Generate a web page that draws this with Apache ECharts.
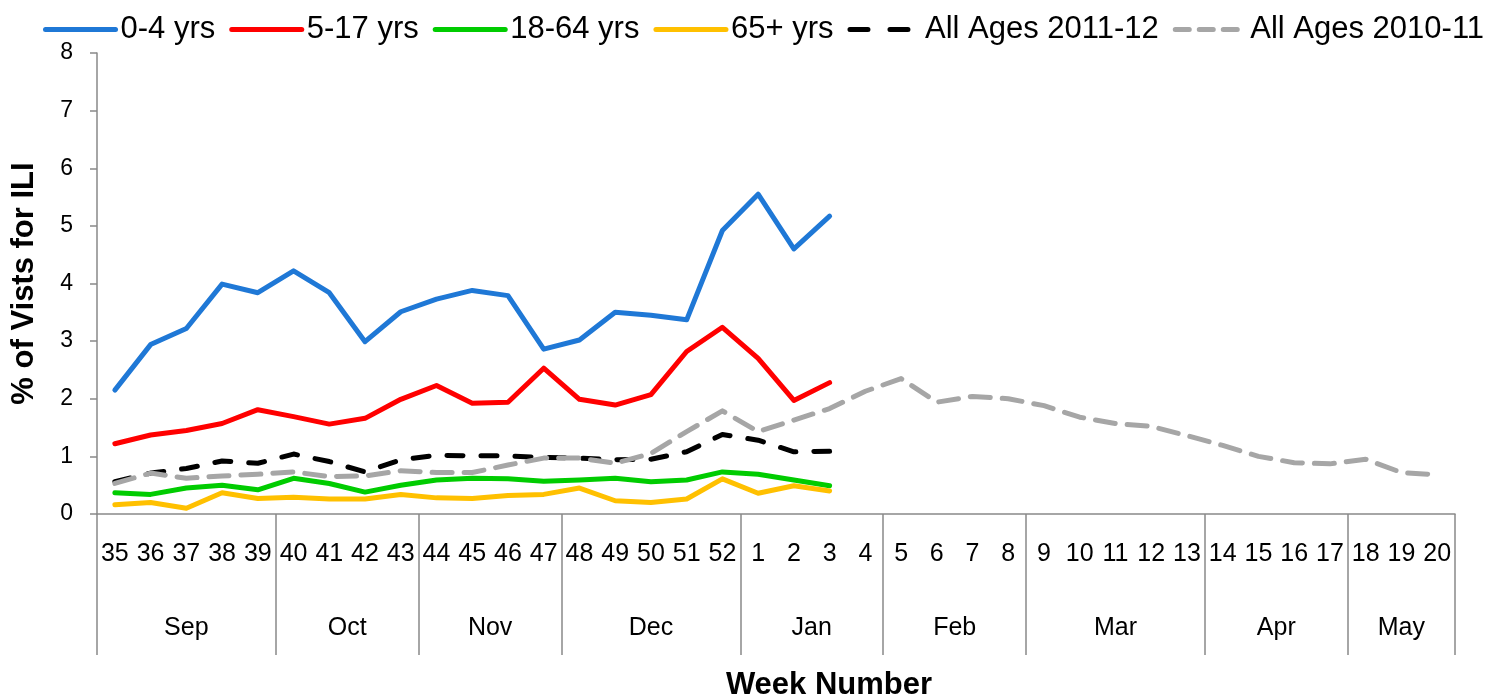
<!DOCTYPE html>
<html>
<head>
<meta charset="utf-8">
<script src="https://cdn.jsdelivr.net/npm/echarts@6/dist/echarts.min.js"></script>
<style>
    html, body { margin: 0; padding: 0; background: #fff; }
    #ili_chart { width: 1489px; height: 696px; }
</style>
</head>
<body>
<div id="ili_chart"></div>
<script>
var weeks = ['35', '36', '37', '38', '39', '40', '41', '42', '43', '44', '45', '46', '47', '48', '49', '50', '51', '52',
    '1', '2', '3', '4', '5', '6', '7', '8', '9', '10', '11', '12', '13', '14', '15', '16', '17', '18', '19', '20'];
var monthNames = ['Sep', 'Oct', 'Nov', 'Dec', 'Jan', 'Feb', 'Mar', 'Apr', 'May'];
var monthWeeks = [5, 4, 4, 5, 4, 4, 5, 4, 3];
var yTicks = [0, 1, 2, 3, 4, 5, 6, 7, 8];

var age0to4 = [2.15, 2.94, 3.22, 3.99, 3.84, 4.22, 3.84, 2.99, 3.51, 3.73, 3.88, 3.79, 2.86, 3.02, 3.50, 3.45, 3.37, 4.92, 5.55, 4.60, 5.17];
var age5to17 = [1.22, 1.37, 1.45, 1.57, 1.81, 1.69, 1.56, 1.66, 1.99, 2.23, 1.92, 1.94, 2.53, 1.99, 1.89, 2.07, 2.82, 3.24, 2.70, 1.97, 2.28];
var age18to64 = [0.37, 0.34, 0.45, 0.50, 0.42, 0.62, 0.53, 0.38, 0.50, 0.59, 0.62, 0.61, 0.57, 0.59, 0.62, 0.56, 0.59, 0.73, 0.69, 0.59, 0.49];
var age65plus = [0.16, 0.20, 0.10, 0.37, 0.27, 0.29, 0.26, 0.26, 0.34, 0.28, 0.27, 0.32, 0.34, 0.45, 0.23, 0.20, 0.26, 0.61, 0.36, 0.49, 0.40];
var allAges1112 = [0.56, 0.71, 0.79, 0.92, 0.88, 1.04, 0.91, 0.73, 0.94, 1.02, 1.01, 1.01, 0.98, 0.97, 0.94, 0.95, 1.08, 1.38, 1.28, 1.08, 1.09];
var allAges1011 = [0.53, 0.71, 0.62, 0.66, 0.69, 0.73, 0.65, 0.66, 0.75, 0.72, 0.72, 0.85, 0.97, 0.97, 0.88, 1.05, 1.43, 1.79, 1.43, 1.63, 1.83,
    2.13, 2.35, 1.94, 2.04, 2.00, 1.88, 1.68, 1.57, 1.52, 1.36, 1.19, 1.00, 0.89, 0.87, 0.95, 0.72, 0.68];

var ili_chart = echarts.init(document.getElementById('ili_chart'));

// month boundaries and centers on a 0..n value scale that lines up with the week bands
var bounds = [0];
var centers = [];
monthWeeks.forEach(function (n, i) {
    centers.push(bounds[i] + n / 2);
    bounds.push(bounds[i] + n);
});

var gray = '#898989';
var font = 'Liberation Sans, Arial, sans-serif';

function lineSeries(name, data, color, dash, width) {
    return {
        name: name,
        type: 'line',
        data: data,
        symbol: 'none',
        xAxisIndex: 0,
        lineStyle: { color: color, width: width || 5, type: dash || 'solid', cap: 'round', join: 'round' },
        itemStyle: { color: color }
    };
}

var option = {
    backgroundColor: '#fff',
    animation: false,
    textStyle: { fontFamily: font, color: '#000' },
    legend: {
        top: 9,
        left: 38,
        width: 1451,
        itemWidth: 70,
        itemHeight: 14,
        itemGap: 14,
        itemStyle: { opacity: 0 },
        lineStyle: { width: 5, cap: 'round' },
        textStyle: { fontSize: 31, color: '#000', fontFamily: font },
        data: [
            '0-4 yrs', '5-17 yrs', '18-64 yrs', '65+ yrs',
            { name: 'All Ages 2011-12', lineStyle: { type: [18, 22], width: 5, cap: 'round' } },
            { name: 'All Ages 2010-11', lineStyle: { type: [14, 10], width: 5, cap: 'round' } }
        ]
    },
    grid: { left: 97, right: 34, top: 53, bottom: 182, outerBoundsMode: 'none' },
    xAxis: [
        {
            type: 'category',
            data: weeks,
            boundaryGap: true,
            axisLine: { show: true, lineStyle: { color: gray, width: 1.5 } },
            axisTick: { show: false },
            axisLabel: { interval: 0, margin: 28, fontSize: 25, color: '#000', fontFamily: font }
        },
        {
            type: 'value',
            position: 'bottom',
            min: 0,
            max: weeks.length,
            axisLine: { show: false, onZero: false },
            splitLine: { show: false },
            axisTick: {
                show: true,
                customValues: bounds,
                length: 141,
                lineStyle: { color: gray, width: 1.5 }
            },
            axisLabel: {
                customValues: centers,
                margin: 102,
                fontSize: 25,
                color: '#000',
                fontFamily: font,
                formatter: function (v) {
                    var i = centers.indexOf(v);
                    return i >= 0 ? monthNames[i] : '';
                }
            },
            name: 'Week Number',
            nameLocation: 'middle',
            nameGap: 156,
            nameTextStyle: { fontSize: 31, fontWeight: 'bold', color: '#000', fontFamily: font, padding: [0, 0, 0, 106] }
        }
    ],
    yAxis: {
        type: 'value',
        min: yTicks[0],
        max: yTicks[yTicks.length - 1],
        interval: 1,
        axisLine: { show: true, lineStyle: { color: gray, width: 1.5 } },
        axisTick: { show: true, length: 7, lineStyle: { color: gray, width: 1.5 } },
        splitLine: { show: false },
        axisLabel: { margin: 24, fontSize: 23, color: '#000', fontFamily: font },
        name: '% of Vists for ILI',
        nameLocation: 'middle',
        nameGap: 57,
        nameTextStyle: { fontSize: 31, fontWeight: 'bold', color: '#000', fontFamily: font }
    },
    series: [
        lineSeries('0-4 yrs', age0to4, '#1f78d6'),
        lineSeries('5-17 yrs', age5to17, '#ff0000'),
        lineSeries('18-64 yrs', age18to64, '#00cc00'),
        lineSeries('65+ yrs', age65plus, '#ffc000'),
        lineSeries('All Ages 2011-12', allAges1112, '#000000', [16, 18], 5),
        lineSeries('All Ages 2010-11', allAges1011, '#a6a6a6', [20, 12], 5)
    ]
};

ili_chart.setOption(option);
</script>
</body>
</html>
